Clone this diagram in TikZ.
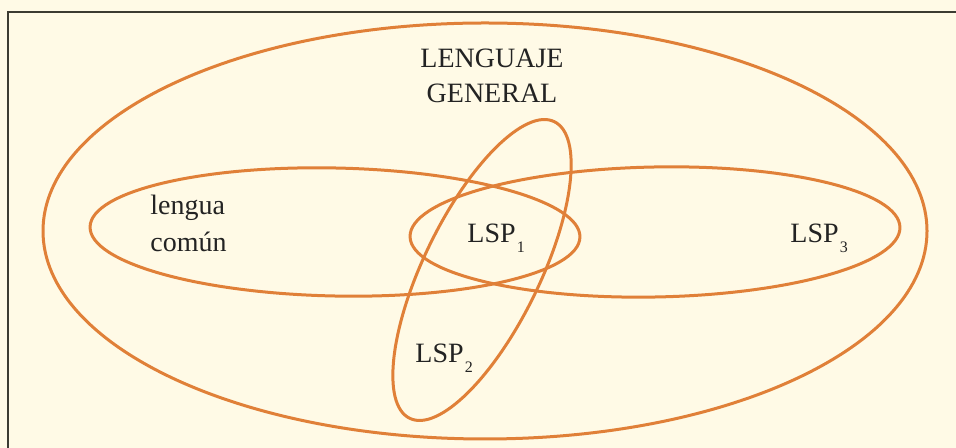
\documentclass[tikz,border=0pt]{standalone}
\usepackage{fontspec}
\setmainfont{Liberation Serif}
\usepackage{xcolor}
\definecolor{paper}{RGB}{255,250,230}
\definecolor{vennline}{RGB}{224,128,56}
\definecolor{frameline}{RGB}{60,60,50}
\definecolor{ink}{RGB}{35,35,35}
\newcommand{\lsp}[1]{LSP\kern0.6pt\raisebox{-5pt}{\fontsize{8}{8}\selectfont #1}}
\tikzset{
  venn/.style={draw=vennline,line width=1.5pt},
  tag/.style={inner sep=0pt,text=ink,font=\fontsize{14}{16}\selectfont}
}

\begin{document}
\begin{tikzpicture}[x=0.5pt,y=0.5pt]
  % background and frame
  \fill[paper] (0,0) rectangle (956,448);
  \useasboundingbox (0,0) rectangle (956,448);
  \draw[frameline,line width=1pt] (8,0) -- (8,436) -- (956,436);
  % outer ellipse
  \draw[venn] (485,217) ellipse [x radius=442,y radius=208];
  % lengua comun and LSP3
  \draw[venn,rotate around={-1.2:(335,216)}] (335,216) ellipse [x radius=245,y radius=64];
  \draw[venn,rotate around={1.1:(655,216)}] (655,216) ellipse [x radius=245,y radius=65];
  % LSP2, tilted
  \draw[venn,rotate around={64:(482,178)}] (482,178) ellipse [x radius=165,y radius=58];
  % labels
  \node[tag,anchor=base] (lenguaje) at (492,380) {LENGUAJE};
  \node[tag,anchor=base] (general) at (492,345) {GENERAL};
  \node[tag,anchor=base west] (lengua) at (150,233) {lengua};
  \node[tag,anchor=base west] (comun) at (150,196) {común};
  \node[tag,anchor=base west] (lspone) at (467,205) {\lsp{1}};
  \node[tag,anchor=base west] (lsptwo) at (415,85) {\lsp{2}};
  \node[tag,anchor=base west] (lspthree) at (790,205) {\lsp{3}};
\end{tikzpicture}
\end{document}
